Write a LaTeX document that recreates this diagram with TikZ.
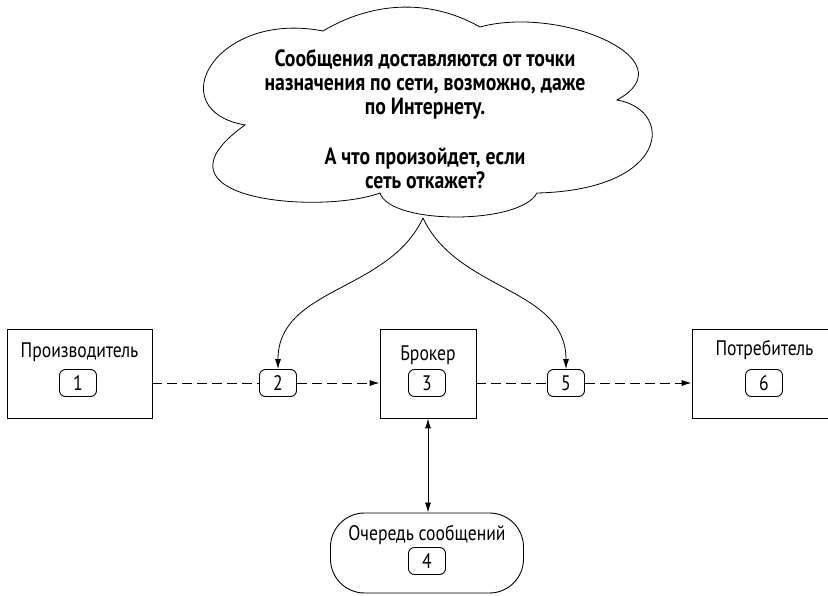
\documentclass[tikz,border=0pt]{standalone}
\usepackage{fontspec}
\setmainfont{PT Sans}[FakeStretch=0.84]
\usetikzlibrary{arrows.meta}
\usetikzlibrary{positioning}

\begin{document}
\begin{tikzpicture}[x=1pt,y=1pt,
        box/.style={draw, line width=0.9pt, minimum height=89, inner sep=0},
        badge/.style={draw, line width=0.9pt, rounded corners=6, minimum width=37,
            minimum height=27, inner sep=0, font=\fontsize{21}{21}\selectfont},
        lbl/.style={font=\fontsize{21}{21}\selectfont},
        flow/.style={dash pattern=on 10pt off 5pt, line width=0.9pt},
        tip/.style={-{Latex[length=10pt,width=6pt]}}]
    \useasboundingbox (0,0) rectangle (828,595);

    % cloud
    \draw[line width=0.8pt] (323,564)
        .. controls (370,592) and (427,598) .. (480,568)
        .. controls (560,590) and (690,535) .. (617,495)
        .. controls (675,485) and (670,405) .. (537,402)
        .. controls (520,370) and (390,370) .. (380,402)
        .. controls (320,380) and (140,395) .. (245,470)
        .. controls (160,485) and (215,585) .. cycle;
    \coordinate (cbot) at (423,377);
    \node[align=center, font=\bfseries\fontsize{23.5}{24}\selectfont] (note) at (425,476)
        {Сообщения доставляются от точки\\
         назначения по сети, возможно, даже\\
         по Интернету.\\[26pt]
         А что произойдет, если\\
         сеть откажет?};

    % boxes
    \node[box, minimum width=145] (prod) at (79.5,221.5) {};
    \node[box, minimum width=96] (broker) at (428,221.5) {};
    \node[box, minimum width=145] (cons) at (764.5,221.5) {};
    \node[draw, line width=0.9pt, rounded corners=34, minimum width=193,
        minimum height=80, inner sep=0] (queue) at (427,42) {};

    \node[lbl] (prodtxt) at (79.5,243) {Производитель};
    \node[lbl] (brokertxt) at (428,240) {Брокер};
    \node[lbl] (constxt) at (764.5,245) {Потребитель};
    \node[lbl] (queuetxt) at (427,60) {Очередь сообщений};

    % numbered steps
    \node[badge] (b1) at (78,212) {1};
    \node[badge] (b2) at (278,212) {2};
    \node[badge] (b3) at (427,212) {3};
    \node[badge] (b4) at (427,34) {4};
    \node[badge] (b5) at (566,212) {5};
    \node[badge] (b6) at (764,212) {6};

    % message flow
    \draw[flow] (b2.west -| prod.east) -- (b2.west);
    \draw[flow, tip] (b2.east) -- (b2.east -| broker.west);
    \draw[flow] (b5.west -| broker.east) -- (b5.west);
    \draw[flow, tip] (b5.east) -- (b5.east -| cons.west);
    \draw[line width=0.9pt, {Latex[length=10pt,width=6pt]}-{Latex[length=10pt,width=6pt]}]
        (broker.south) -- (broker.south |- queue.north);

    \draw[tip, line width=0.8pt] (cbot) to[out=-115,in=90] (b2.north);
    \draw[tip, line width=0.8pt] (cbot) to[out=-65,in=90] (b5.north);
\end{tikzpicture}
\end{document}
